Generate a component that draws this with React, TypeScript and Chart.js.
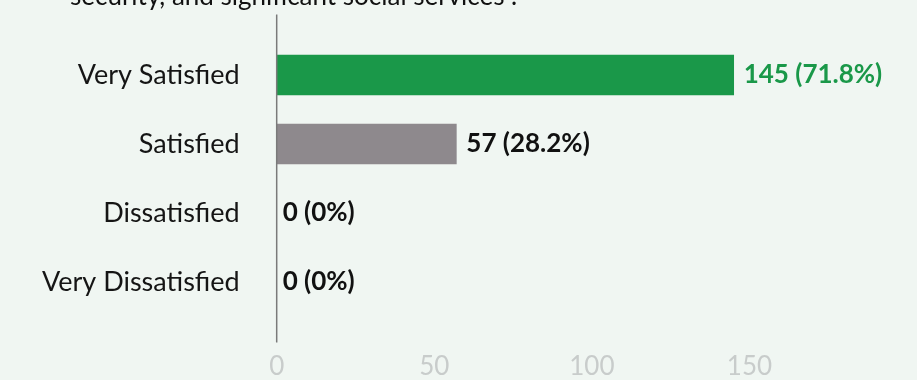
import React, { useEffect, useRef } from "react";
import { Chart, registerables } from "chart.js";

Chart.register(...registerables);

const categories = ["Very Satisfied", "Satisfied", "Dissatisfied", "Very Dissatisfied"];
const counts = [145, 57, 0, 0];
const percents = ["71.8%", "28.2%", "0%", "0%"];
const barColors = ["#1a9849", "#8e898d", "#8e898d", "#8e898d"];
const labelColors = ["#1a9849", "#111111", "#111111", "#111111"];
const xTicks = [0, 50, 100, 150];
const titleTail = "security, and significant social services”.";

const BG = "#f0f6f2";

export default function App() {
  const ref = useRef<HTMLCanvasElement | null>(null);

  useEffect(() => {
    document.body.style.margin = "0";
    document.body.style.background = BG;
    const canvas = ref.current;
    if (!canvas) return;

    const titlePlugin = {
      id: "titleTail",
      afterDraw(chart: any) {
        const ctx = chart.ctx;
        ctx.save();
        ctx.font = "26px Lato";
        ctx.fillStyle = "#111111";
        ctx.textBaseline = "alphabetic";
        ctx.textAlign = "left";
        ctx.fillText(titleTail, 70, 5);
        ctx.restore();
      },
    };

    const axisLinePlugin = {
      id: "axisLine",
      afterDatasetsDraw(chart: any) {
        const ctx = chart.ctx;
        const x = chart.scales.x.getPixelForValue(0);
        const { top, bottom } = chart.chartArea;
        ctx.save();
        ctx.strokeStyle = "#7a7a7a";
        ctx.lineWidth = 1.5;
        ctx.beginPath();
        ctx.moveTo(x, top - 26);
        ctx.lineTo(x, bottom + 26);
        ctx.stroke();
        ctx.restore();
      },
    };

    const valueLabelPlugin = {
      id: "valueLabels",
      afterDatasetsDraw(chart: any) {
        const ctx = chart.ctx;
        const meta = chart.getDatasetMeta(0);
        ctx.save();
        ctx.font = "bold 26px Lato";
        ctx.textBaseline = "middle";
        ctx.textAlign = "left";
        meta.data.forEach((bar: any, i: number) => {
          const v = counts[i];
          ctx.fillStyle = labelColors[i];
          const off = v === 0 ? 6 : 10;
          ctx.fillText(`${v} (${percents[i]})`, bar.x + off, bar.y);
        });
        ctx.restore();
      },
    };

    const chart = new Chart(canvas, {
      type: "bar",
      data: {
        labels: categories,
        datasets: [
          {
            data: counts,
            backgroundColor: barColors,
            barThickness: 40,
            borderWidth: 0,
          },
        ],
      },
      options: {
        indexAxis: "y",
        animation: false,
        responsive: true,
        maintainAspectRatio: false,
        layout: { padding: { left: 5, right: 73, top: 40.5, bottom: 0 } },
        plugins: {
          legend: { display: false },
          tooltip: { enabled: false },
          title: { display: false },
        },
        scales: {
          x: {
            min: 0,
            max: 180,
            grid: { display: false, drawTicks: false },
            border: { display: false },
            afterBuildTicks(scale: any) {
              scale.ticks = xTicks.map((v) => ({ value: v }));
            },
            afterFit(scale: any) {
              scale.height = 63.5;
            },
            ticks: {
              color: "#c8cccb",
              font: { family: "Lato", size: 26 },
              padding: 35,
            },
          },
          y: {
            grid: { display: false, drawTicks: false },
            border: { display: false },
            afterFit(scale: any) {
              scale.paddingTop = 0;
              scale.paddingBottom = 0;
            },
            ticks: {
              color: "#151515",
              font: { family: "Lato", size: 27 },
              padding: 37,
            },
          },
        },
      },
      plugins: [titlePlugin, axisLinePlugin, valueLabelPlugin],
    });

    return () => chart.destroy();
  }, []);

  return (
    <div style={{ width: 917, height: 380, position: "relative", background: BG }}>
      <canvas ref={ref} />
    </div>
  );
}
